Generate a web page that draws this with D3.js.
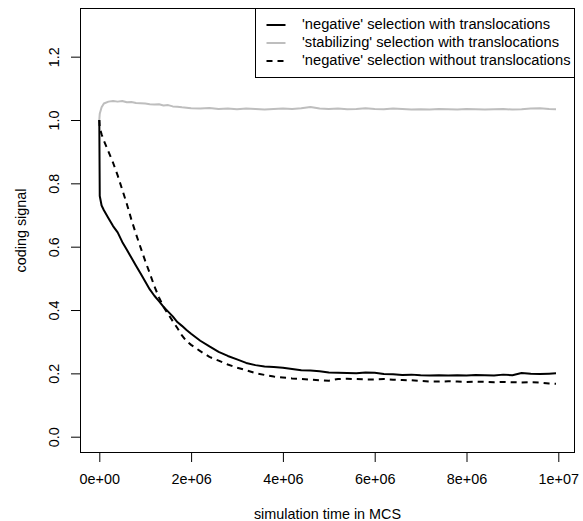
<!DOCTYPE html>
<html>
<head>
<meta charset="utf-8">
<script src="https://cdn.jsdelivr.net/npm/d3@7"></script>
<style>
  html, body { margin: 0; padding: 0; background: #fff; }
  svg { display: block; }
  text { font-family: "Liberation Sans", Arial, Helvetica, sans-serif; fill: #000; }
</style>
</head>
<body>
<svg id="chart" width="583" height="521"></svg>
<script>
// ---- data (time in MCS) ----
const timeMCS = [0, 0.01e6, 0.05e6, 0.1e6, 0.2e6, 0.3e6, 0.4e6, 0.5e6, 0.6e6, 0.7e6, 0.8e6, 0.9e6,
  1.0e6, 1.1e6, 1.2e6, 1.3e6, 1.4e6, 1.5e6, 1.6e6, 1.7e6, 1.8e6, 1.9e6,
  2.0e6, 2.2e6, 2.4e6, 2.6e6, 2.8e6, 3.0e6, 3.2e6, 3.4e6, 3.6e6, 3.8e6,
  4.0e6, 4.2e6, 4.4e6, 4.6e6, 4.8e6, 5.0e6, 5.2e6, 5.4e6, 5.6e6, 5.8e6,
  6.0e6, 6.2e6, 6.4e6, 6.6e6, 6.8e6, 7.0e6, 7.2e6, 7.4e6, 7.6e6, 7.8e6,
  8.0e6, 8.2e6, 8.4e6, 8.6e6, 8.8e6, 9.0e6, 9.2e6, 9.4e6, 9.6e6, 9.8e6, 9.95e6];

const negativeWithTransloc = [1.0, 0.76, 0.73, 0.715, 0.69, 0.665, 0.645, 0.615, 0.59, 0.565, 0.54, 0.515,
  0.49, 0.465, 0.445, 0.428, 0.41, 0.395, 0.38, 0.362, 0.35, 0.337,
  0.325, 0.303, 0.285, 0.268, 0.255, 0.244, 0.233, 0.226, 0.222, 0.22,
  0.218, 0.214, 0.21, 0.209, 0.207, 0.203, 0.202, 0.201, 0.2, 0.203,
  0.202, 0.198, 0.197, 0.195, 0.196, 0.194, 0.193, 0.194, 0.193, 0.194,
  0.193, 0.195, 0.194, 0.193, 0.196, 0.194, 0.201, 0.199, 0.198, 0.199, 0.2];

const stabilizingWithTransloc = [1.0, 1.02, 1.04, 1.052, 1.058, 1.06, 1.058, 1.06, 1.056, 1.057, 1.054, 1.053,
  1.052, 1.05, 1.049, 1.05, 1.046, 1.047, 1.043, 1.042, 1.04, 1.039,
  1.037, 1.036, 1.038, 1.035, 1.036, 1.034, 1.036, 1.035, 1.033, 1.035,
  1.036, 1.035, 1.037, 1.041, 1.036, 1.035, 1.036, 1.034, 1.035, 1.037,
  1.035, 1.034, 1.036, 1.035, 1.033, 1.034, 1.033, 1.035, 1.034, 1.033,
  1.035, 1.034, 1.033, 1.034, 1.035, 1.033, 1.034, 1.036, 1.037, 1.035, 1.034];

const negativeWithoutTransloc = [1.0, 0.975, 0.955, 0.935, 0.9, 0.865, 0.825, 0.78, 0.735, 0.685, 0.64, 0.597,
  0.555, 0.516, 0.475, 0.44, 0.41, 0.387, 0.365, 0.343, 0.32, 0.302,
  0.29, 0.27, 0.252, 0.24, 0.228, 0.218, 0.21, 0.201, 0.195, 0.19,
  0.187, 0.184, 0.182, 0.18, 0.178, 0.177, 0.182, 0.183, 0.182, 0.181,
  0.181, 0.182, 0.18, 0.179, 0.178, 0.176, 0.174, 0.174, 0.175, 0.174,
  0.173, 0.174, 0.173, 0.172, 0.173, 0.172, 0.171, 0.172, 0.171, 0.168, 0.167];

const xTicks = [0, 2e6, 4e6, 6e6, 8e6, 1e7];
const xTickLabels = ["0e+00", "2e+06", "4e+06", "6e+06", "8e+06", "1e+07"];
const yTicks = [0, 0.2, 0.4, 0.6, 0.8, 1.0, 1.2];
const yTickLabels = ["0.0", "0.2", "0.4", "0.6", "0.8", "1.0", "1.2"];

const seriesNames = ["'negative' selection with translocations",
                     "'stabilizing' selection with translocations",
                     "'negative' selection without translocations"];

// ---- layout ----
const svg = d3.select("#chart");
const box = { left: 80.5, right: 574.5, top: 8.5, bottom: 452.5 };
const x = d3.scaleLinear().domain([0, 1e7]).range([99.3, 558.3]);
const y = d3.scaleLinear().domain([0, 1]).range([436.7, 120]);
const FS = 14.4;
const LFS = 14.7;

const series = [
  { name: seriesNames[0], values: negativeWithTransloc, color: "#000", dash: null },
  { name: seriesNames[1], values: stabilizingWithTransloc, color: "#bebebe", dash: null },
  { name: seriesNames[2], values: negativeWithoutTransloc, color: "#000", dash: "6,5" }
];

const line = d3.line().x(d => x(d[0])).y(d => y(d[1]));

const drawOrder = [1, 2, 0];
drawOrder.forEach(i => {
  const s = series[i];
  svg.append("path")
    .datum(timeMCS.map((t, k) => [t, s.values[k]]))
    .attr("d", line)
    .attr("fill", "none")
    .attr("stroke", s.color)
    .attr("stroke-width", 2)
    .attr("stroke-linejoin", "round")
    .attr("stroke-dasharray", s.dash);
});

// box
svg.append("rect")
  .attr("x", box.left).attr("y", box.top)
  .attr("width", box.right - box.left).attr("height", box.bottom - box.top)
  .attr("fill", "none").attr("stroke", "#000").attr("stroke-width", 1);

// x axis
const xAxis = d3.axisBottom(x).tickValues(xTicks)
  .tickFormat((d, i) => xTickLabels[i]).tickSize(9.5).tickPadding(10);
const gx = svg.append("g").attr("transform", `translate(0,${box.bottom})`).call(xAxis);
gx.select(".domain").remove();
gx.selectAll(".tick line").attr("stroke", "#000");
gx.selectAll(".tick text")
  .attr("font-size", FS).attr("font-family", null).attr("y", null).attr("dy", null)
  .attr("transform", "translate(0,27.5)")
  .attr("dominant-baseline", "middle");

// y axis
const yAxis = d3.axisLeft(y).tickValues(yTicks)
  .tickFormat((d, i) => yTickLabels[i]).tickSize(9.5);
const gy = svg.append("g").attr("transform", `translate(${box.left},0)`).call(yAxis);
gy.select(".domain").remove();
gy.selectAll(".tick line").attr("stroke", "#000");
gy.selectAll(".tick text")
  .attr("font-size", FS).attr("font-family", null)
  .attr("x", null).attr("dy", null)
  .attr("text-anchor", "middle")
  .attr("dominant-baseline", "middle")
  .attr("transform", "translate(-25.5,0) rotate(-90)");

// axis titles
svg.append("text")
  .attr("x", (box.left + box.right) / 2).attr("y", 515)
  .attr("text-anchor", "middle").attr("dominant-baseline", "middle")
  .attr("font-size", FS).text("simulation time in MCS");
svg.append("text")
  .attr("transform", `translate(22,${(box.top + box.bottom) / 2}) rotate(-90)`)
  .attr("text-anchor", "middle").attr("dominant-baseline", "middle")
  .attr("font-size", FS).text("coding signal");

// legend
const lg = { left: 255.5, top: box.top, right: box.right, bottom: 77.5 };
svg.append("rect")
  .attr("x", lg.left).attr("y", lg.top)
  .attr("width", lg.right - lg.left).attr("height", lg.bottom - lg.top)
  .attr("fill", "#fff").attr("stroke", "#000").attr("stroke-width", 1);
series.forEach((s, i) => {
  const yy = 25 + i * 18;
  svg.append("line")
    .attr("x1", 266.5).attr("x2", 285.5).attr("y1", yy).attr("y2", yy)
    .attr("stroke", s.color).attr("stroke-width", 2)
    .attr("stroke-dasharray", s.dash);
  svg.append("text")
    .attr("x", 302).attr("y", yy)
    .attr("dominant-baseline", "middle")
    .attr("font-size", LFS).text(s.name);
});
</script>
</body>
</html>
